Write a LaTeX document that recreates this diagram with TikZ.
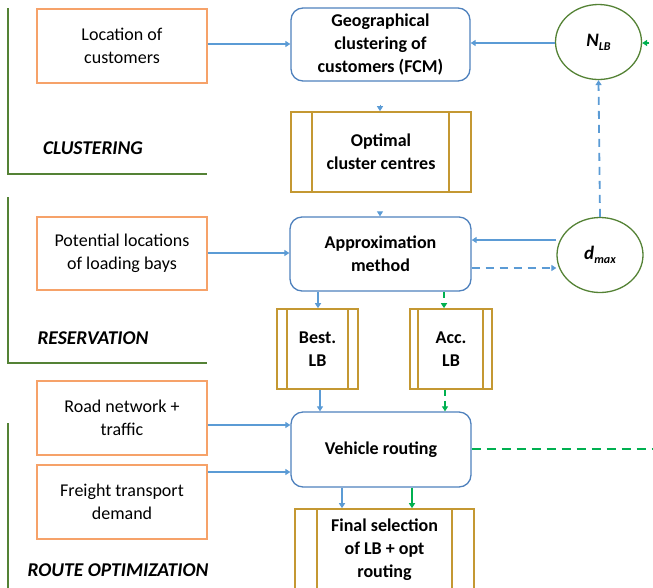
\documentclass[tikz,border=0pt]{standalone}
\usepackage{fontspec}
\setmainfont{Carlito}
\usetikzlibrary{arrows.meta,shapes.geometric}
\definecolor{orangeb}{RGB}{246,162,105}
\definecolor{blueb}{RGB}{79,129,189}
\definecolor{bluea}{RGB}{91,155,213}
\definecolor{goldb}{RGB}{196,152,50}
\definecolor{darkg}{RGB}{84,130,53}
\definecolor{brightg}{RGB}{0,176,80}
\newcommand{\subtxt}[1]{\raisebox{-4pt}{\fontsize{12}{12}\selectfont #1}}
\tikzset{
  txt/.style={font=\fontsize{18}{23}\selectfont, align=center},
  inbox/.style={txt, draw=orangeb, line width=1.6pt, minimum width=170pt, minimum height=74pt, inner sep=0pt},
  procbox/.style={txt, font=\fontsize{18}{23}\selectfont\bfseries, draw=blueb, line width=1.3pt, rounded corners=12pt, inner sep=0pt},
  databox/.style={txt, font=\fontsize{18}{23}\selectfont\bfseries, draw=goldb, line width=1.6pt, inner sep=0pt},
  innerbar/.style={draw=goldb, line width=1.6pt},
  param/.style={ellipse, draw=darkg, line width=1.3pt, minimum width=86pt, minimum height=75pt, inner sep=0pt, font=\fontsize{19}{23}\selectfont\bfseries\itshape},
  phase/.style={font=\fontsize{19.5}{23}\selectfont\bfseries\itshape, inner sep=0pt},
  bar/.style={draw=darkg, line width=2pt},
  tipb/.style={-{Triangle[width=6pt,length=5pt]}},
  ba/.style={tipb, draw=bluea, line width=1.8pt},
  bad/.style={ba, dash pattern=on 8pt off 6pt},
  ga/.style={tipb, draw=brightg, line width=1.8pt},
  gad/.style={ga, dash pattern=on 6pt off 5pt},
}
\begin{document}
\begin{tikzpicture}[x=1pt,y=-1pt]
\useasboundingbox (0,0) rectangle (653,587);
\clip (0,0) rectangle (653,587);

% phase brackets
\draw[bar] (8,8) -- (8,174) -- (207,174);
\draw[bar] (8,197) -- (8,363) -- (207,363);
\draw[bar] (8,423) -- (8,600);
\node[phase] (lclu) at (93,148) {CLUSTERING};
\node[phase] (lres) at (93,338) {RESERVATION};
\node[phase] (lrou) at (118,570) {ROUTE OPTIMIZATION};

% input boxes
\node[inbox] (loc) at (122,46) {Location of\\customers};
\node[inbox, minimum height=73pt] (pot) at (122,253.5) {Potential locations\\of loading bays};
\node[inbox] (road) at (122,418) {Road network +\\traffic};
\node[inbox] (frei) at (122,502) {Freight transport\\demand};

% process boxes
\node[procbox, minimum width=179pt, minimum height=73pt] (geo) at (380.5,44.5) {Geographical\\clustering of\\customers (FCM)};
\node[procbox, minimum width=181pt, minimum height=74pt] (app) at (380.5,254) {Approximation\\method};
\node[procbox, minimum width=180pt, minimum height=75pt] (veh) at (381,449.5) {Vehicle routing};

% data boxes
\node[databox, minimum width=180pt, minimum height=80pt] (opt) at (381,152) {Optimal\\cluster centres};
\draw[innerbar] ([xshift=22pt]opt.north west) -- ([xshift=22pt]opt.south west)
  ([xshift=-23pt]opt.north east) -- ([xshift=-23pt]opt.south east);
\node[databox, minimum width=81pt, minimum height=80pt] (best) at (317.5,349) {Best.\\LB};
\draw[innerbar] ([xshift=11pt]best.north west) -- ([xshift=11pt]best.south west)
  ([xshift=-11pt]best.north east) -- ([xshift=-11pt]best.south east);
\node[databox, minimum width=82pt, minimum height=80pt] (acc) at (451,349) {Acc.\\LB};
\draw[innerbar] ([xshift=9pt]acc.north west) -- ([xshift=9pt]acc.south west)
  ([xshift=-10pt]acc.north east) -- ([xshift=-10pt]acc.south east);
\node[databox, minimum width=179pt, minimum height=82pt] (fin) at (384.5,550) {Final selection\\of LB + opt\\routing};
\draw[innerbar] ([xshift=23pt]fin.north west) -- ([xshift=23pt]fin.south west)
  ([xshift=-23pt]fin.north east) -- ([xshift=-23pt]fin.south east);

% parameters
\node[param] (nlb) at (598.5,42) {N\subtxt{LB}};
\node[param] (dmax) at (600,255) {d\subtxt{max}};

% connectors
\draw[ba] (loc.east |- 0,44) -- (geo.west |- 0,44);
\draw[ba] (nlb.west |- 0,43) -- (geo.east |- 0,43);
\draw[ba, line width=1pt, shorten <=23pt] (geo.south -| 380,0) -- (opt.north -| 380,0);
\draw[ba, line width=1pt, shorten <=20pt] (opt.south -| 380,0) -- (app.north -| 380,0);
\draw[ba] (pot.east |- 0,253) -- (app.west |- 0,253);
\draw[ba] (dmax.west |- 0,240) -- (app.east |- 0,240);
\draw[bad] (app.east |- 0,268) -- (dmax.west |- 0,268);
\draw[bad] (dmax.north) -- (nlb.south);
\draw[ba] (app.south -| 318,0) -- (best.north -| 318,0);
\draw[gad] (app.south -| 444,0) -- (acc.north -| 444,0);
\draw[ba] (best.south -| 320,0) -- (veh.north -| 320,0);
\draw[gad] (acc.south -| 445,0) -- (veh.north -| 445,0);
\draw[ba] (road.east |- 0,425) -- (veh.west |- 0,425);
\draw[ba] (frei.east |- 0,472) -- (veh.west |- 0,472);
\draw[ba] (veh.south -| 342,0) -- (fin.north -| 342,0);
\draw[ga] (veh.south -| 412,0) -- (fin.north -| 412,0);
\coordinate (rc1) at (665,449);
\coordinate (rc2) at (665,43);
\draw[gad, line width=2.4pt, dash pattern=on 9pt off 6pt] (veh.east |- 0,449) -- (rc1) -- (rc2) -- (nlb.east |- 0,43);
\end{tikzpicture}
\end{document}
